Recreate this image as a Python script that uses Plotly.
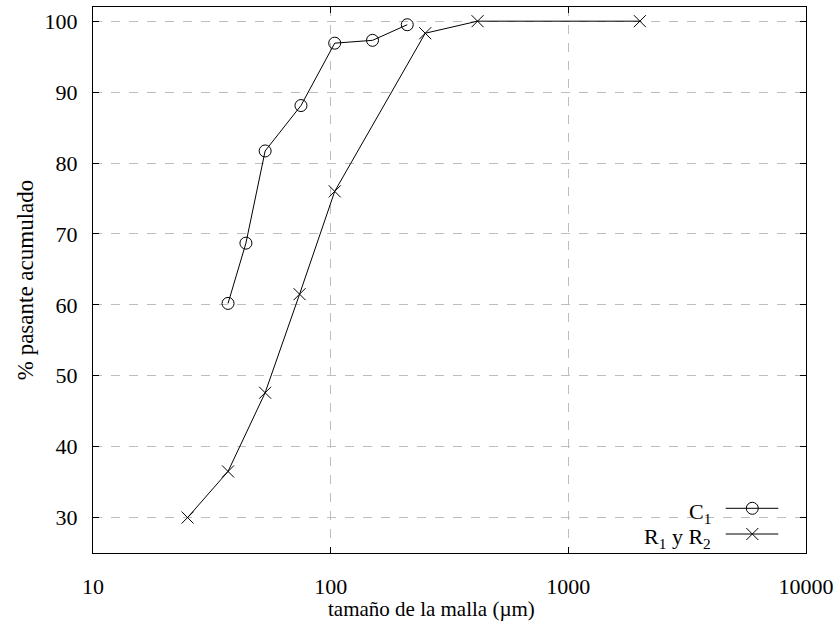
import plotly.graph_objects as go

c1_x = [37, 44, 53, 75, 104, 150, 210]
c1_y = [60.2, 68.7, 81.7, 88.1, 96.9, 97.3, 99.5]
r_x = [25, 37, 53, 74, 104, 250, 415, 2000]
r_y = [30.0, 36.5, 47.6, 61.5, 76.0, 98.3, 100, 100]
x_ticks = [10, 100, 1000, 10000]
y_ticks = [30, 40, 50, 60, 70, 80, 90, 100]

FONT = '"Liberation Serif", "Times New Roman", Times, serif'
W, H = 840, 624
L, R, T, B = 93, 34, 7, 71
pw, ph = W - L - R, H - T - B

def px(xp):
    return (xp - L) / pw

def py(yp):
    return (H - B - yp) / ph

fig = go.Figure()
fig.add_trace(go.Scatter(x=c1_x, y=c1_y, mode="lines+markers", name="C1",
                         line=dict(color="black", width=1),
                         marker=dict(symbol="circle-open", size=12, color="black", line=dict(width=1))))
fig.add_trace(go.Scatter(x=r_x, y=r_y, mode="lines+markers", name="R1 y R2",
                         line=dict(color="black", width=1),
                         marker=dict(symbol="x-thin-open", size=12, color="black", line=dict(width=1))))

axis_common = dict(showline=True, linecolor="black", linewidth=1, mirror="ticks",
                   ticks="inside", ticklen=6, tickcolor="black", tickwidth=1,
                   showgrid=True, gridcolor="#bdbdbd", griddash="dash", gridwidth=1,
                   zeroline=False, tickfont=dict(family=FONT, size=22, color="black"))

fig.update_xaxes(type="log", range=[1, 4], tickvals=x_ticks, ticktext=[str(v) for v in x_ticks],
                 ticklabelstandoff=14, **axis_common)
fig.update_yaxes(range=[25, 102], tickvals=y_ticks,
                 title=dict(text="% pasante acumulado", font=dict(family=FONT, size=23, color="black"), standoff=4),
                 ticklabelstandoff=10, **axis_common)

# x-axis title (gnuplot places it slightly left of the plot centre)
fig.add_annotation(xref="paper", yref="paper", x=px(431.5), y=py(609), text="tamaño de la malla (µm)",
                   showarrow=False, xanchor="center", yanchor="middle",
                   font=dict(family=FONT, size=21, color="black"))

# gnuplot-style legend (bottom right, text left of sample)
shapes = []
rows = [("C<sub>1</sub>", 508.3, 513, "circle"), ("R<sub>1</sub> y R<sub>2</sub>", 534, 538, "x")]
for text, ly, ty, sym in rows:
    fig.add_annotation(xref="paper", yref="paper", x=px(713), y=py(ty), text=text, showarrow=False,
                       xanchor="right", yanchor="middle", font=dict(family=FONT, size=22, color="black"))
    shapes.append(dict(type="line", xref="paper", yref="paper", x0=px(725.7), x1=px(778.3),
                       y0=py(ly), y1=py(ly), line=dict(color="black", width=1)))
    cx, r = 752.3, 6
    if sym == "circle":
        shapes.append(dict(type="circle", xref="paper", yref="paper", x0=px(cx - r), x1=px(cx + r),
                           y0=py(ly - r), y1=py(ly + r), line=dict(color="black", width=1)))
    else:
        shapes.append(dict(type="line", xref="paper", yref="paper", x0=px(cx - r), x1=px(cx + r),
                           y0=py(ly - r), y1=py(ly + r), line=dict(color="black", width=1)))
        shapes.append(dict(type="line", xref="paper", yref="paper", x0=px(cx - r), x1=px(cx + r),
                           y0=py(ly + r), y1=py(ly - r), line=dict(color="black", width=1)))

fig.update_layout(width=W, height=H, margin=dict(l=L, r=R, t=T, b=B),
                  plot_bgcolor="white", paper_bgcolor="white", showlegend=False,
                  shapes=shapes, font=dict(family=FONT))

fig.write_html("out.html", config={"displayModeBar": False},
               post_script="document.body.style.margin='0';")
